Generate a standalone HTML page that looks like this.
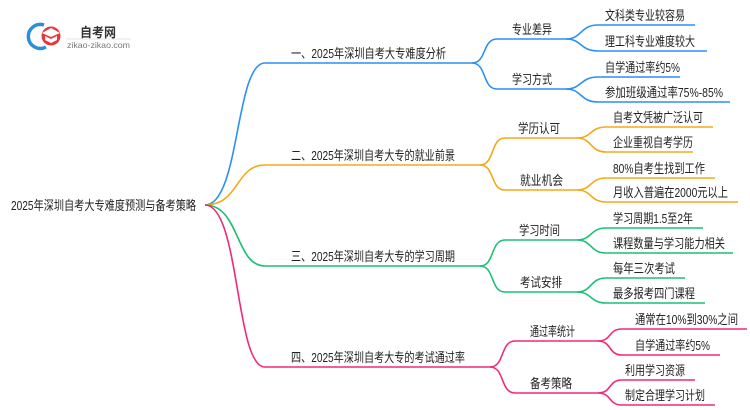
<!DOCTYPE html>
<html><head><meta charset="utf-8"><style>
html,body{margin:0;padding:0;background:#fff;}
svg{display:block;}
text{font-family:"Liberation Sans","Noto Sans CJK SC",sans-serif;fill:#222;}
</style></head><body>
<svg width="750" height="410" viewBox="0 0 750 410" xmlns="http://www.w3.org/2000/svg">
<!-- logo -->
<path d="M44 25 A12 12 0 1 0 46 47" fill="none" stroke="#2a8fd8" stroke-width="3.5"/>
<circle cx="51" cy="36" r="9.5" fill="#e8363a"/>
<path d="M42 33 L51 28 L60 33 L51 37 Z" fill="#fff"/>
<path d="M45 36 L45 40 L51 43 L57 40 L57 36 L51 39 Z" fill="#fff"/>
<text x="80" y="37" font-size="13" font-weight="bold" textLength="36" lengthAdjust="spacingAndGlyphs" style="fill:#333">自考网</text>
<line x1="66" y1="39" x2="131" y2="39" stroke="#ddd" stroke-width="0.8"/>
<text x="67" y="48" font-size="8.5" textLength="63" lengthAdjust="spacingAndGlyphs" style="fill:#777">zikao-zikao.com</text>

<g fill="none" stroke-width="1.6">
<!-- main branches -->
<path d="M205 205 C240 205 235 63 265 63 L472 63" stroke="#2b8ff5"/>
<path d="M205 205 C240 205 235 165 265 165 L480 165" stroke="#f5a817"/>
<path d="M205 205 C240 205 235 266 265 266 L480 266" stroke="#1dbf73"/>
<path d="M205 205 C240 205 235 367 265 367 L490 367" stroke="#f0297a"/>
<!-- blue subs -->
<path d="M472 63 C487 63 482 39 497 39 L566 39" stroke="#2b8ff5"/>
<path d="M472 63 C487 63 482 89 497 89 L566 89" stroke="#2b8ff5"/>
<path d="M566 39 C582 39 580 25 598 25 L695 25" stroke="#2b8ff5"/>
<path d="M566 39 C582 39 580 51 598 51 L707 51" stroke="#2b8ff5"/>
<path d="M566 89 C582 89 580 77 598 77 L680 77" stroke="#2b8ff5"/>
<path d="M566 89 C582 89 580 102 598 102 L730 102" stroke="#2b8ff5"/>
<!-- orange -->
<path d="M480 165 C495 165 490 138 505 138 L577 138" stroke="#f5a817"/>
<path d="M480 165 C495 165 490 190 505 190 L577 190" stroke="#f5a817"/>
<path d="M577 138 C592 138 590 127 606 127 L713 127" stroke="#f5a817"/>
<path d="M577 138 C592 138 590 152 606 152 L693 152" stroke="#f5a817"/>
<path d="M577 190 C592 190 590 178 606 178 L715 178" stroke="#f5a817"/>
<path d="M577 190 C592 190 590 202 606 202 L738 202" stroke="#f5a817"/>
<!-- green -->
<path d="M480 266 C495 266 490 240 505 240 L577 240" stroke="#1dbf73"/>
<path d="M480 266 C495 266 490 292 505 292 L577 292" stroke="#1dbf73"/>
<path d="M577 240 C592 240 590 228 606 228 L703 228" stroke="#1dbf73"/>
<path d="M577 240 C592 240 590 253 606 253 L733 253" stroke="#1dbf73"/>
<path d="M577 292 C592 292 590 278 606 278 L685 278" stroke="#1dbf73"/>
<path d="M577 292 C592 292 590 303 606 303 L705 303" stroke="#1dbf73"/>
<!-- pink -->
<path d="M490 367 C505 367 500 341 515 341 L598 341" stroke="#f0297a"/>
<path d="M490 367 C505 367 500 393 515 393 L598 393" stroke="#f0297a"/>
<path d="M598 341 C612 341 608 329 622 329 L747 329" stroke="#f0297a"/>
<path d="M598 341 C612 341 608 355 622 355 L720 355" stroke="#f0297a"/>
<path d="M598 393 C612 393 608 380 622 380 L695 380" stroke="#f0297a"/>
<path d="M598 393 C612 393 608 405 622 405 L715 405" stroke="#f0297a"/>
</g>

<g font-size="13">
<text x="11" y="210" textLength="185" lengthAdjust="spacingAndGlyphs">2025年深圳自考大专难度预测与备考策略</text>
<text x="291" y="58" textLength="155" lengthAdjust="spacingAndGlyphs">一、2025年深圳自考大专难度分析</text>
<text x="291" y="160" textLength="164" lengthAdjust="spacingAndGlyphs">二、2025年深圳自考大专的就业前景</text>
<text x="291" y="261" textLength="164" lengthAdjust="spacingAndGlyphs">三、2025年深圳自考大专的学习周期</text>
<text x="291" y="362" textLength="174" lengthAdjust="spacingAndGlyphs">四、2025年深圳自考大专的考试通过率</text>

<text x="512" y="34" textLength="40" lengthAdjust="spacingAndGlyphs">专业差异</text>
<text x="512" y="84" textLength="40" lengthAdjust="spacingAndGlyphs">学习方式</text>
<text x="518" y="133" textLength="42" lengthAdjust="spacingAndGlyphs">学历认可</text>
<text x="520" y="185" textLength="43" lengthAdjust="spacingAndGlyphs">就业机会</text>
<text x="519" y="235" textLength="41" lengthAdjust="spacingAndGlyphs">学习时间</text>
<text x="520" y="287" textLength="42" lengthAdjust="spacingAndGlyphs">考试安排</text>
<text x="530" y="336" textLength="45" lengthAdjust="spacingAndGlyphs">通过率统计</text>
<text x="530" y="388" textLength="42" lengthAdjust="spacingAndGlyphs">备考策略</text>

<text x="605" y="20" textLength="80" lengthAdjust="spacingAndGlyphs">文科类专业较容易</text>
<text x="605" y="46" textLength="90" lengthAdjust="spacingAndGlyphs">理工科专业难度较大</text>
<text x="605" y="72" textLength="75" lengthAdjust="spacingAndGlyphs">自学通过率约5%</text>
<text x="605" y="97" textLength="118" lengthAdjust="spacingAndGlyphs">参加班级通过率75%-85%</text>
<text x="613" y="122" textLength="90" lengthAdjust="spacingAndGlyphs">自考文凭被广泛认可</text>
<text x="613" y="147" textLength="80" lengthAdjust="spacingAndGlyphs">企业重视自考学历</text>
<text x="613" y="173" textLength="92" lengthAdjust="spacingAndGlyphs">80%自考生找到工作</text>
<text x="613" y="197" textLength="115" lengthAdjust="spacingAndGlyphs">月收入普遍在2000元以上</text>
<text x="613" y="223" textLength="80" lengthAdjust="spacingAndGlyphs">学习周期1.5至2年</text>
<text x="613" y="248" textLength="112" lengthAdjust="spacingAndGlyphs">课程数量与学习能力相关</text>
<text x="613" y="273" textLength="62" lengthAdjust="spacingAndGlyphs">每年三次考试</text>
<text x="613" y="298" textLength="82" lengthAdjust="spacingAndGlyphs">最多报考四门课程</text>
<text x="635" y="324" textLength="103" lengthAdjust="spacingAndGlyphs">通常在10%到30%之间</text>
<text x="635" y="350" textLength="75" lengthAdjust="spacingAndGlyphs">自学通过率约5%</text>
<text x="625" y="375" textLength="60" lengthAdjust="spacingAndGlyphs">利用学习资源</text>
<text x="625" y="400" textLength="80" lengthAdjust="spacingAndGlyphs">制定合理学习计划</text>
</g>
</svg>
</body></html>
